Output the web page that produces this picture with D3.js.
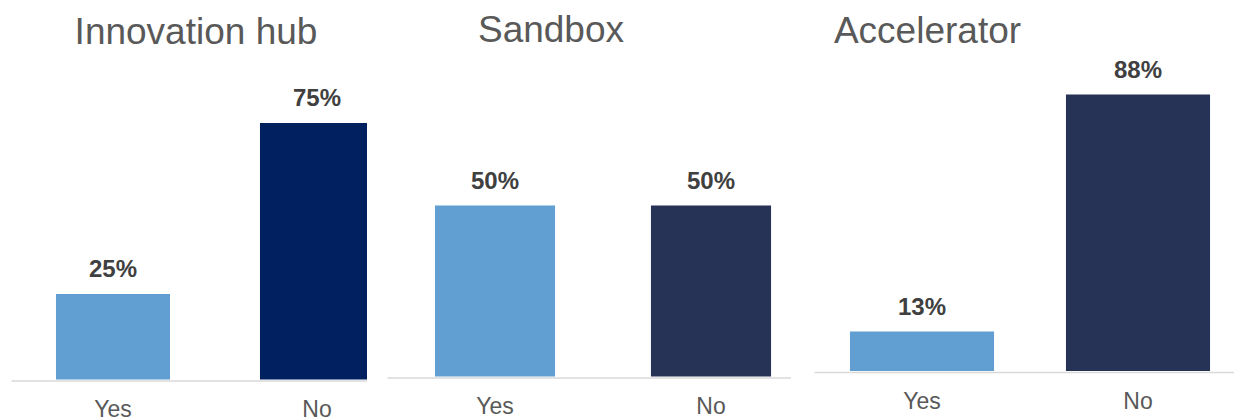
<!DOCTYPE html>
<html>
<head>
<meta charset="utf-8">
<script src="https://cdn.jsdelivr.net/npm/d3@7"></script>
<style>
  body { margin: 0; background: #fff; }
  svg { display: block; font-family: "Liberation Sans", Arial, sans-serif; }
</style>
</head>
<body>
<svg id="chart" width="1234" height="418"></svg>
<script>
// data
const panelTitles = ["Innovation hub", "Sandbox", "Accelerator"];
const categories = ["Yes", "No"];
const yesValues = [25, 50, 12.5];
const noValues = [75, 50, 87.5];

// layout for each panel (pixels)
const layout = [
    { x0: 11,  x1: 419,  clip: 367,  base: 379.5, top: 37.5, pad: 0.441, titleX: 196,   titleY: 44, tickY: 416.5, noColor: "#002060" },
    { x0: 387, x1: 819,  clip: 791,  base: 376.5, top: 34.5, pad: 0.444, titleX: 551,   titleY: 42, tickY: 413.5, noColor: "#263357" },
    { x0: 814, x1: 1246, clip: 1234, base: 371,   top: 55,   pad: 0.333, titleX: 927.5, titleY: 43, tickY: 409,   noColor: "#263357" }
];
const yesColor = "#619ed2";

const svg = d3.select("#chart");
const defs = svg.append("defs");

panelTitles.forEach((title, i) => {
    const L = layout[i];
    const values = [yesValues[i], noValues[i]];
    const colors = [yesColor, L.noColor];

    const x = d3.scaleBand()
        .domain(categories)
        .range([L.x0, L.x1])
        .paddingInner(L.pad)
        .paddingOuter(L.pad / 2);

    const y = d3.scaleLinear()
        .domain([0, 100])
        .range([L.base, L.top]);

    defs.append("clipPath")
        .attr("id", "clip" + i)
        .append("rect")
        .attr("x", L.x0 - 2)
        .attr("y", 0)
        .attr("width", L.clip - L.x0 + 2)
        .attr("height", 418);

    const g = svg.append("g").attr("clip-path", `url(#clip${i})`);

    g.selectAll(".bar")
        .data(values)
        .enter().append("rect")
        .attr("class", "bar")
        .attr("x", (d, j) => x(categories[j]))
        .attr("y", d => y(d))
        .attr("width", x.bandwidth())
        .attr("height", d => y(0) - y(d))
        .attr("fill", (d, j) => colors[j]);

    g.selectAll(".val")
        .data(values)
        .enter().append("text")
        .attr("class", "val")
        .attr("x", (d, j) => x(categories[j]) + x.bandwidth() / 2)
        .attr("y", d => y(d) - 17)
        .attr("text-anchor", "middle")
        .style("font-size", "24px")
        .style("font-weight", "bold")
        .style("fill", "#404040")
        .text(d => Math.round(d) + "%");

    const axis = g.append("g")
        .attr("transform", `translate(0,${L.base + 1})`)
        .call(d3.axisBottom(x).tickSize(0).tickSizeOuter(0));

    axis.select(".domain")
        .attr("stroke", "#d9d9d9")
        .attr("stroke-width", 1.5);

    axis.selectAll(".tick text")
        .attr("y", L.tickY - L.base - 1)
        .attr("dy", 0)
        .style("font-size", "23px")
        .style("font-family", "\"Liberation Sans\", Arial, sans-serif")
        .style("fill", "#595959");

    svg.append("text")
        .attr("x", L.titleX)
        .attr("y", L.titleY)
        .attr("text-anchor", "middle")
        .style("font-size", "37px")
        .style("fill", "#595959")
        .text(title);
});
</script>
</body>
</html>
